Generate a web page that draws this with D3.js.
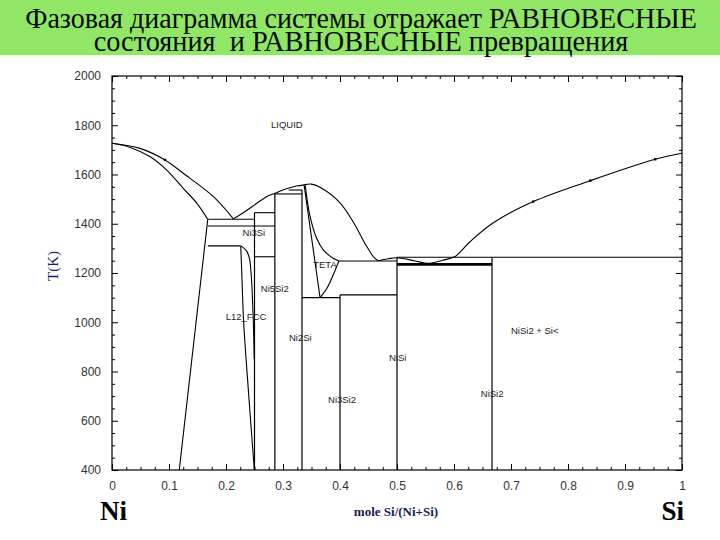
<!DOCTYPE html>
<html lang="ru">
<head>
  <meta charset="UTF-8">
  <title>Ni-Si phase diagram</title>
  <script src="https://d3js.org/d3.v7.min.js"></script>
  <style>
    body { margin: 0; background: #fff; }
    .tick text { font-family: "Liberation Sans", Arial, sans-serif; font-size: 12px; fill: #333; }
    .phase { font-family: "Liberation Sans", Arial, sans-serif; font-size: 9.5px; fill: #222; }
    .curve { fill: none; stroke: #000; stroke-width: 1.1; }
    .title { font-family: "Liberation Serif", "DejaVu Serif", serif; font-size: 29px; white-space: pre; }
  </style>
</head>
<body>
<div id="chart"></div>
<script>
  // ---------------- data (composition = mole Si/(Ni+Si), T in K) ----------------
  const titleLines = ["Фазовая диаграмма системы отражает РАВНОВЕСНЫЕ",
                      "состояния  и РАВНОВЕСНЫЕ превращения"];

  const yTicks = [400, 600, 800, 1000, 1200, 1400, 1600, 1800, 2000];
  const xTicks = [0, 0.1, 0.2, 0.3, 0.4, 0.5, 0.6, 0.7, 0.8, 0.9, 1];

  // liquidus pieces
  const liqLeft  = [[0, 1727], [0.049, 1706], [0.093, 1659], [0.125, 1605], [0.178, 1510], [0.213, 1420]];
  const liqMid   = [[0.213, 1420], [0.233, 1449], [0.254, 1483], [0.271, 1510], [0.286, 1524],
                    [0.30, 1537], [0.312, 1546], [0.324, 1553], [0.337, 1558]];
  const thetaDome = [[0.337, 1558], [0.35, 1561], [0.365, 1548], [0.4, 1485], [0.425, 1400],
                     [0.445, 1315], [0.46, 1262], [0.467, 1250]];
  const liqRight = [[0.467, 1250], [0.485, 1258], [0.5, 1262], [0.53, 1250], [0.555, 1239], [0.58, 1252],
                    [0.602, 1267], [0.628, 1327], [0.669, 1404], [0.739, 1490], [0.839, 1575],
                    [0.953, 1662], [1.0, 1686]];

  // FCC side
  const solLeft   = [[0, 1727], [0.032, 1710], [0.067, 1672], [0.096, 1618], [0.125, 1544], [0.149, 1483], [0.168, 1418]];
  const fccSolvus = [[0.168, 1418], [0.118, 400]];
  const fccRight  = [[0.2258, 1310], [0.2275, 1212], [0.231, 1000], [0.240, 700], [0.2497, 400]];
  const ni3siLeft = [[0.2262, 1310], [0.236, 1290], [0.241, 1260], [0.244, 1200], [0.246, 1120],
                     [0.248, 1000], [0.2495, 850]];

  // theta phase
  const thetaLeft    = [[0.337, 1558], [0.365, 1100]];
  const thetaSolidus = [[0.339, 1556], [0.347, 1435], [0.359, 1341], [0.371, 1293], [0.388, 1260], [0.398, 1249]];
  const thetaRight   = [[0.398, 1249], [0.388, 1192], [0.377, 1138], [0.365, 1100]];

  // compound lines: [composition, T top, T bottom]
  const verticals = [[0.25, 1445, 400], [0.2857, 1524, 400], [0.3333, 1537, 400],
                     [0.4, 1111, 400], [0.5, 1264, 400], [0.6667, 1264, 400]];
  // isotherms: [T, composition from, composition to, thick]
  const horizontals = [[1418, 0.168, 0.25, 0], [1445, 0.25, 0.2857, 0], [1391, 0.168, 0.2857, 0],
                       [1310, 0.168, 0.2258, 0], [1266, 0.25, 0.2857, 0], [1521, 0.2857, 0.3333, 0],
                       [1537, 0.31, 0.3333, 0], [1249, 0.398, 0.5, 0], [1111, 0.4, 0.5, 0],
                       [1100, 0.3333, 0.4, 0], [1264, 0.5, 1.0, 0], [1235, 0.5, 0.6667, 1]];

  const dots = [[0.093, 1659], [0.739, 1490], [0.839, 1575], [0.953, 1662]];

  const phaseLabels = [["LIQUID", 0.279, 1801], ["Ni3Si", 0.229, 1362], ["TETA", 0.353, 1232],
                       ["Ni5Si2", 0.261, 1135], ["L12_FCC", 0.1995, 1023], ["Ni2Si", 0.3105, 936],
                       ["NiSi", 0.486, 855], ["NiSi2 + Si<", 0.700, 964], ["Ni3Si2", 0.379, 684],
                       ["NiSi2", 0.647, 709]];

  // ---------------- setup ----------------
  const W = 720, H = 540;
  const svg = d3.select("#chart").append("svg").attr("width", W).attr("height", H);

  const x = d3.scaleLinear().domain([0, 1]).range([112, 682]);
  const y = d3.scaleLinear().domain([400, 2000]).range([470, 76]);

  const serif = "'Liberation Serif', 'DejaVu Serif', 'Times New Roman', serif";

  // title band
  svg.append("rect").attr("x", 0).attr("y", 0).attr("width", W).attr("height", 55).attr("fill", "#8fe765");
  svg.append("rect").attr("x", 0).attr("y", 55).attr("width", W).attr("height", 3).attr("fill", "#f1fcee");

  // title lines are squeezed horizontally to the reference widths
  const titleWidths = [672, 535];
  const titleBase = [28, 51];
  svg.selectAll(".title").data(titleLines).enter().append("text")
    .attr("class", "title")
    .attr("text-anchor", "middle")
    .attr("fill", "#050a05")
    .text(d => d)
    .each(function (d, i) {
      const len = this.getComputedTextLength();
      d3.select(this).attr("transform",
        `translate(361,${titleBase[i]}) scale(${(titleWidths[i] / len).toFixed(4)},1)`);
    });

  // ---------------- axes ----------------
  const minorY = d3.range(400, 2001, 50).filter(v => v % 200 !== 0);
  const minorX = d3.range(0, 41).map(i => i / 40).filter((v, i) => i % 4 !== 0);

  function addAxis(axisFn, scale, pos, major, minor, labels) {
    const g1 = svg.append("g").attr("transform", pos)
      .call(axisFn(scale).tickValues(major).tickSizeInner(-6).tickSizeOuter(0).tickPadding(11)
        .tickFormat(labels ? d3.format("~g") : ""));
    const g2 = svg.append("g").attr("transform", pos)
      .call(axisFn(scale).tickValues(minor).tickSizeInner(-3).tickSizeOuter(0).tickFormat(""));
    [g1, g2].forEach(g => {
      g.select(".domain").remove();
      g.selectAll(".tick line").attr("stroke", "#000");
    });
  }
  addAxis(d3.axisLeft, y, `translate(${x(0)},0)`, yTicks, minorY, true);
  addAxis(d3.axisRight, y, `translate(${x(1)},0)`, yTicks, minorY, false);
  addAxis(d3.axisBottom, x, `translate(0,${y(400)})`, xTicks, minorX, true);
  addAxis(d3.axisTop, x, `translate(0,${y(2000)})`, xTicks, minorX, false);

  svg.append("rect")
    .attr("x", x(0)).attr("y", y(2000))
    .attr("width", x(1) - x(0)).attr("height", y(400) - y(2000))
    .attr("fill", "none").attr("stroke", "#000").attr("stroke-width", 1.2);

  // ---------------- diagram ----------------
  const plot = svg.append("g");
  const smooth = d3.line().x(d => x(d[0])).y(d => y(d[1])).curve(d3.curveCatmullRom.alpha(0.5));

  [liqLeft, liqMid, thetaDome, liqRight, solLeft, fccSolvus, fccRight, ni3siLeft,
   thetaLeft, thetaSolidus, thetaRight].forEach(pts => {
    plot.append("path").attr("class", "curve").attr("d", smooth(pts));
  });

  plot.selectAll(".vline").data(verticals).enter().append("line")
    .attr("class", "vline")
    .attr("x1", d => x(d[0])).attr("x2", d => x(d[0]))
    .attr("y1", d => y(d[1])).attr("y2", d => y(d[2]))
    .attr("stroke", "#000").attr("stroke-width", 1.2);

  plot.selectAll(".hline").data(horizontals).enter().append("line")
    .attr("class", "hline")
    .attr("x1", d => x(d[1])).attr("x2", d => x(d[2]))
    .attr("y1", d => y(d[0])).attr("y2", d => y(d[0]))
    .attr("stroke", "#000").attr("stroke-width", d => d[3] ? 2.6 : 1.1);

  plot.selectAll(".dot").data(dots).enter().append("rect")
    .attr("x", d => x(d[0]) - 1.2).attr("y", d => y(d[1]) - 1.2)
    .attr("width", 2.4).attr("height", 2.4).attr("fill", "#000");

  plot.selectAll(".phase").data(phaseLabels).enter().append("text")
    .attr("class", "phase")
    .attr("x", d => x(d[1]))
    .attr("y", d => y(d[2]))
    .attr("dy", "0.35em")
    .text(d => d[0]);

  // ---------------- axis titles ----------------
  svg.append("text")
    .attr("transform", "translate(58,266) rotate(-90)")
    .attr("text-anchor", "middle")
    .style("font-family", serif)
    .style("font-size", "15px")
    .attr("fill", "#1c1c6c")
    .text("T(K)");

  svg.append("text")
    .attr("x", 396).attr("y", 516)
    .attr("text-anchor", "middle")
    .style("font-family", serif)
    .style("font-size", "13px").style("font-weight", "bold")
    .attr("fill", "#1a1a5a")
    .text("mole Si/(Ni+Si)");

  svg.append("text")
    .attr("x", 100).attr("y", 520)
    .style("font-family", serif)
    .style("font-size", "27px").style("font-weight", "bold")
    .text("Ni");

  svg.append("text")
    .attr("x", 684).attr("y", 520)
    .attr("text-anchor", "end")
    .style("font-family", serif)
    .style("font-size", "27px").style("font-weight", "bold")
    .text("Si");
</script>
</body>
</html>
